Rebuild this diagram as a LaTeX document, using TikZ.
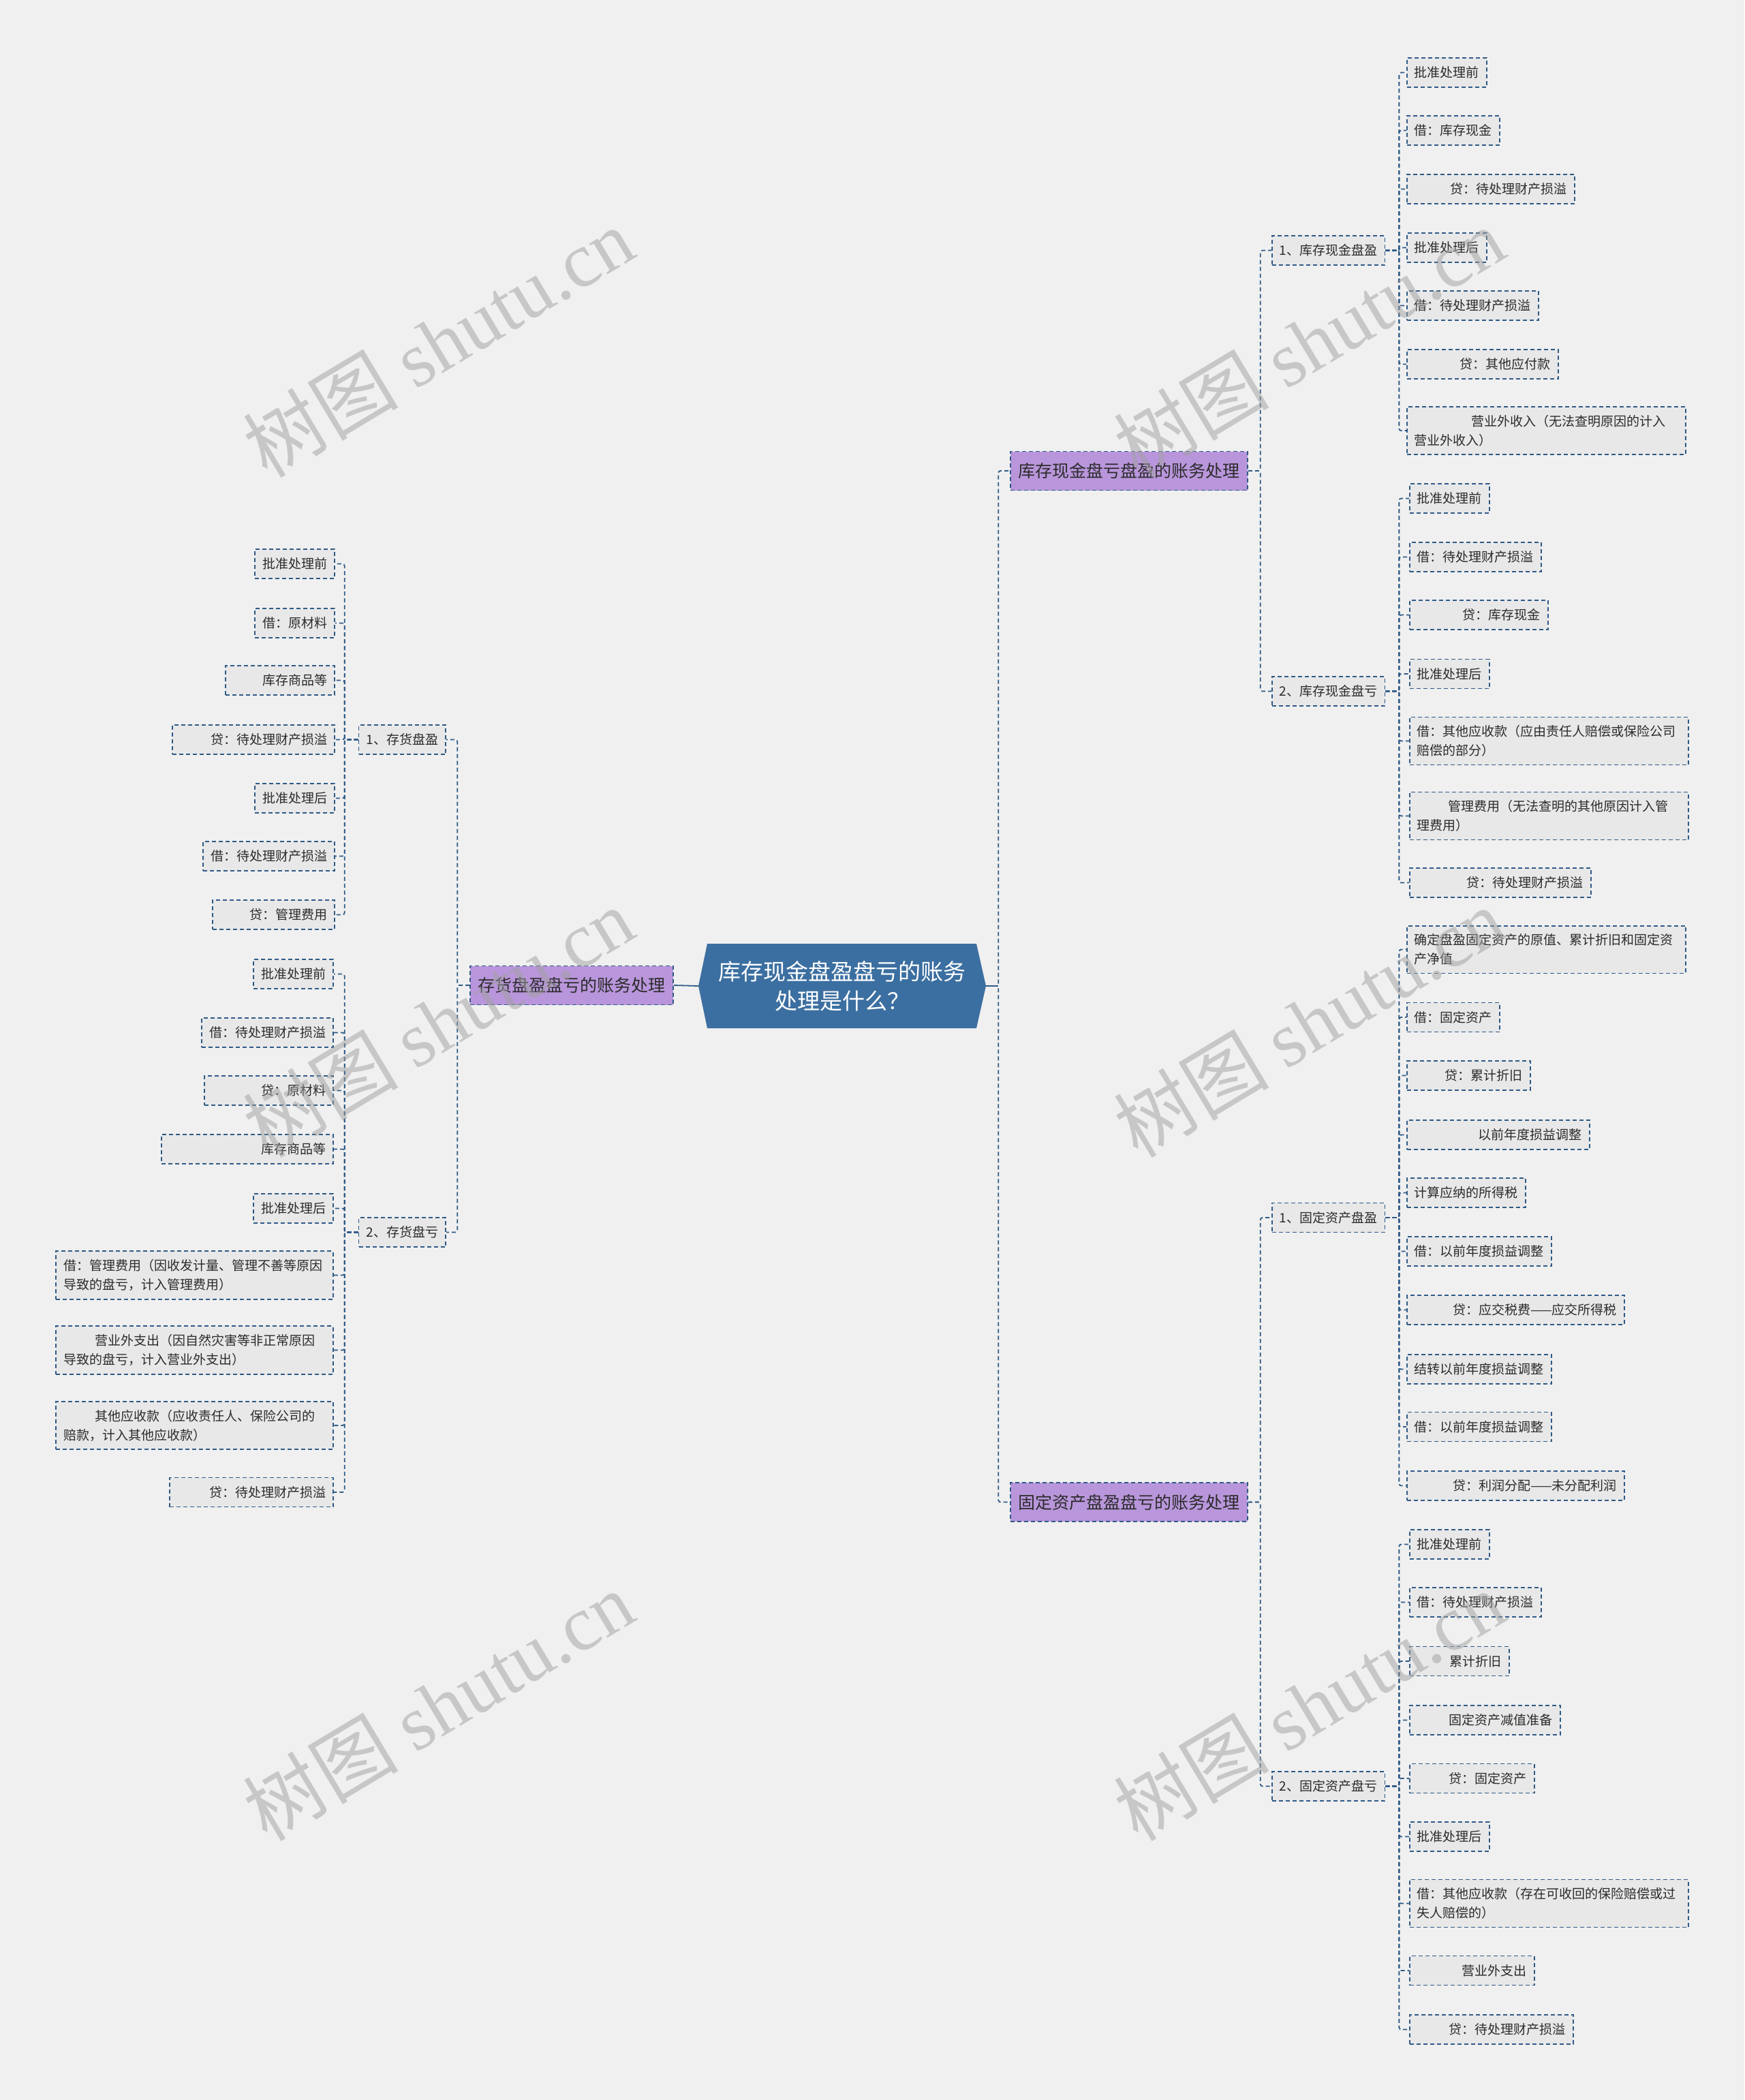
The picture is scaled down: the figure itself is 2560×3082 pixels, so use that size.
\documentclass[tikz,border=0pt]{standalone}
\usepackage{fontspec}
\setmainfont{Noto Sans CJK SC}
\newfontfamily\wmlatin{Liberation Serif}
\usetikzlibrary{positioning}
\definecolor{canvas}{HTML}{F0F0F0}
\definecolor{boxfill}{HTML}{E8E8E8}
\definecolor{edge}{HTML}{2E5A86}
\definecolor{lilac}{HTML}{B996DB}
\definecolor{rootblue}{HTML}{3C6FA1}
\definecolor{ink}{HTML}{2B2B2B}
\definecolor{wmgray}{HTML}{A0A0A0}

\begin{document}
\begin{tikzpicture}[
  x=1pt, y=-1pt,
  link/.style={edge, line width=1.8pt, dash pattern=on 6pt off 4pt, rounded corners=3pt},
  leaf/.style={draw=edge, fill=boxfill, line width=1.8pt, dash pattern=on 6pt off 4pt,
    text=ink, font=\fontsize{19}{28}\selectfont, inner xsep=11pt, inner ysep=12pt, minimum height=43pt},
  ind/.style={text width=#1pt, align=right},
  wrap/.style={text width=#1pt, align=left},
  wrap/.default=387,
  branch/.style={leaf, fill=lilac, font=\fontsize{25}{30}\selectfont, inner xsep=11.5pt, minimum height=57pt},
  rootbox/.style={text=white, align=center, font=\fontsize{33}{43}\selectfont, minimum width=422pt, minimum height=124pt},
  wmark/.style={rotate=31, text=wmgray, text opacity=0.5, font=\fontsize{114}{114}\selectfont}
]
  \useasboundingbox (0,0) rectangle (2560,3082);
  \fill[canvas] (0,0) rectangle (2560,3082);

  % central topic
  \fill[rootblue] (1025,1447) -- (1038,1385) -- (1433,1385) -- (1447,1447) -- (1433,1509) -- (1038,1509) -- cycle;
  \node[rootbox] (root) at (1236,1447) {库存现金盘盈盘亏的账务\\处理是什么？};

  % main branches
  \node[branch, anchor=west] (cash) at (1482,691) {库存现金盘亏盘盈的账务处理};
  \node[branch, anchor=west] (fixed) at (1482,2204.5) {固定资产盘盈盘亏的账务处理};
  \node[branch, anchor=east] (stock) at (989,1446) {存货盘盈盘亏的账务处理};

  % second level
  \node[leaf, anchor=west] (cashA) at (1866,367.5) {1、库存现金盘盈};
  \node[leaf, anchor=west] (cashB) at (1866,1014.5) {2、库存现金盘亏};
  \node[leaf, anchor=west] (fixedA) at (1866,1787) {1、固定资产盘盈};
  \node[leaf, anchor=west] (fixedB) at (1866,2621.5) {2、固定资产盘亏};
  \node[leaf, anchor=east] (stockA) at (655,1085.5) {1、存货盘盈};
  \node[leaf, anchor=east] (stockB) at (655,1808.5) {2、存货盘亏};

  % cash surplus
  \node[leaf, anchor=west] (ca1) at (2064,106.5) {批准处理前};
  \node[leaf, anchor=west] (ca2) at (2064,191.5) {借：库存现金};
  \node[leaf, anchor=west, ind=224] (ca3) at (2064,277.5) {贷：待处理财产损溢};
  \node[leaf, anchor=west] (ca4) at (2064,363.5) {批准处理后};
  \node[leaf, anchor=west] (ca5) at (2064,448.5) {借：待处理财产损溢};
  \node[leaf, anchor=west, ind=200] (ca6) at (2064,534.5) {贷：其他应付款};
  \node[leaf, anchor=west, wrap] (ca7) at (2064,632) {\hspace*{84pt}营业外收入（无法查明原因的计入\\营业外收入）};

  % cash shortage
  \node[leaf, anchor=west] (cb1) at (2068,731.5) {批准处理前};
  \node[leaf, anchor=west] (cb2) at (2068,817.5) {借：待处理财产损溢};
  \node[leaf, anchor=west, ind=181] (cb3) at (2068,902.5) {贷：库存现金};
  \node[leaf, anchor=west] (cb4) at (2068,989) {批准处理后};
  \node[leaf, anchor=west, wrap] (cb5) at (2068,1087.5) {借：其他应收款（应由责任人赔偿或保险公司\\赔偿的部分）};
  \node[leaf, anchor=west, wrap] (cb6) at (2068,1197.5) {\hspace*{46pt}管理费用（无法查明的其他原因计入管\\理费用）};
  \node[leaf, anchor=west, ind=244] (cb7) at (2068,1295.5) {贷：待处理财产损溢};

  % fixed asset surplus
  \node[leaf, anchor=west, wrap] (fa1) at (2064,1393.5) {确定盘盈固定资产的原值、累计折旧和固定资\\产净值};
  \node[leaf, anchor=west] (fa2) at (2064,1493) {借：固定资产};
  \node[leaf, anchor=west, ind=159] (fa3) at (2064,1578.5) {贷：累计折旧};
  \node[leaf, anchor=west, ind=246] (fa4) at (2064,1665.5) {以前年度损益调整};
  \node[leaf, anchor=west] (fa5) at (2064,1750.5) {计算应纳的所得税};
  \node[leaf, anchor=west] (fa6) at (2064,1836.5) {借：以前年度损益调整};
  \node[leaf, anchor=west, ind=297] (fa7) at (2064,1922.5) {贷：应交税费——应交所得税};
  \node[leaf, anchor=west] (fa8) at (2064,2009.5) {结转以前年度损益调整};
  \node[leaf, anchor=west] (fa9) at (2064,2094) {借：以前年度损益调整};
  \node[leaf, anchor=west, ind=297] (fa10) at (2064,2180.5) {贷：利润分配——未分配利润};

  % fixed asset shortage
  \node[leaf, anchor=west] (fb1) at (2068,2266.5) {批准处理前};
  \node[leaf, anchor=west] (fb2) at (2068,2351.5) {借：待处理财产损溢};
  \node[leaf, anchor=west, ind=124] (fb3) at (2068,2438) {累计折旧};
  \node[leaf, anchor=west, ind=199] (fb4) at (2068,2524.5) {固定资产减值准备};
  \node[leaf, anchor=west, ind=161] (fb5) at (2068,2610) {贷：固定资产};
  \node[leaf, anchor=west] (fb6) at (2068,2695.5) {批准处理后};
  \node[leaf, anchor=west, wrap] (fb7) at (2068,2793.5) {借：其他应收款（存在可收回的保险赔偿或过\\失人赔偿的）};
  \node[leaf, anchor=west, ind=161] (fb8) at (2068,2892) {营业外支出};
  \node[leaf, anchor=west, ind=218] (fb9) at (2068,2978.5) {贷：待处理财产损溢};

  % stock surplus
  \node[leaf, anchor=east] (sa1) at (492,827.5) {批准处理前};
  \node[leaf, anchor=east] (sa2) at (492,914.5) {借：原材料};
  \node[leaf, anchor=east, ind=138] (sa3) at (492,998.5) {库存商品等};
  \node[leaf, anchor=east, ind=216] (sa4) at (492,1085.5) {贷：待处理财产损溢};
  \node[leaf, anchor=east] (sa5) at (492,1171.5) {批准处理后};
  \node[leaf, anchor=east] (sa6) at (492,1256.5) {借：待处理财产损溢};
  \node[leaf, anchor=east, ind=157] (sa7) at (492,1342.5) {贷：管理费用};

  % stock shortage
  \node[leaf, anchor=east] (sb1) at (490,1429.5) {批准处理前};
  \node[leaf, anchor=east] (sb2) at (490,1515.5) {借：待处理财产损溢};
  \node[leaf, anchor=east, ind=167] (sb3) at (490,1600.5) {贷：原材料};
  \node[leaf, anchor=east, ind=230] (sb4) at (490,1686.5) {库存商品等};
  \node[leaf, anchor=east] (sb5) at (490,1773.5) {批准处理后};
  \node[leaf, anchor=east, wrap=385] (sb6) at (490,1871.5) {借：管理费用（因收发计量、管理不善等原因\\导致的盘亏，计入管理费用）};
  \node[leaf, anchor=east, wrap=385] (sb7) at (490,1981.5) {\hspace*{46pt}营业外支出（因自然灾害等非正常原因\\导致的盘亏，计入营业外支出）};
  \node[leaf, anchor=east, wrap=385] (sb8) at (490,2092) {\hspace*{46pt}其他应收款（应收责任人、保险公司的\\赔款，计入其他应收款）};
  \node[leaf, anchor=east, ind=218] (sb9) at (490,2190) {贷：待处理财产损溢};

  % connectors
  \draw[link] (root.east) -- ++(18,0) |- (cash.west);
  \draw[link] (root.east) -- ++(18,0) |- (fixed.west);
  \draw[edge, line width=1.8pt] (root.east) -- ++(18,0);
  \draw[edge, line width=1.8pt] (root.west) -- (stock.east);
  \foreach \n in {cashA,cashB} \draw[link] (cash.east) -- ++(18,0) |- (\n.west);
  \foreach \n in {fixedA,fixedB} \draw[link] (fixed.east) -- ++(18,0) |- (\n.west);
  \foreach \n in {stockA,stockB} \draw[link] (stock.west) -- ++(-18,0) |- (\n.east);
  \foreach \i in {1,...,7} \draw[link] (cashA.east) -- ++(20,0) |- (ca\i.west);
  \foreach \i in {1,...,7} \draw[link] (cashB.east) -- ++(20,0) |- (cb\i.west);
  \foreach \i in {1,...,10} \draw[link] (fixedA.east) -- ++(20,0) |- (fa\i.west);
  \foreach \i in {1,...,9} \draw[link] (fixedB.east) -- ++(20,0) |- (fb\i.west);
  \foreach \i in {1,...,7} \draw[link] (stockA.west) -- ++(-20,0) |- (sa\i.east);
  \foreach \i in {1,...,9} \draw[link] (stockB.west) -- ++(-20,0) |- (sb\i.east);

  % watermarks
  \foreach \wx in {643,1921} \foreach \wy in {502,1500,2503}
    \node[wmark] (wm\wx\wy) at (\wx,\wy) {树图 {\wmlatin shutu.cn}};
\end{tikzpicture}
\end{document}
